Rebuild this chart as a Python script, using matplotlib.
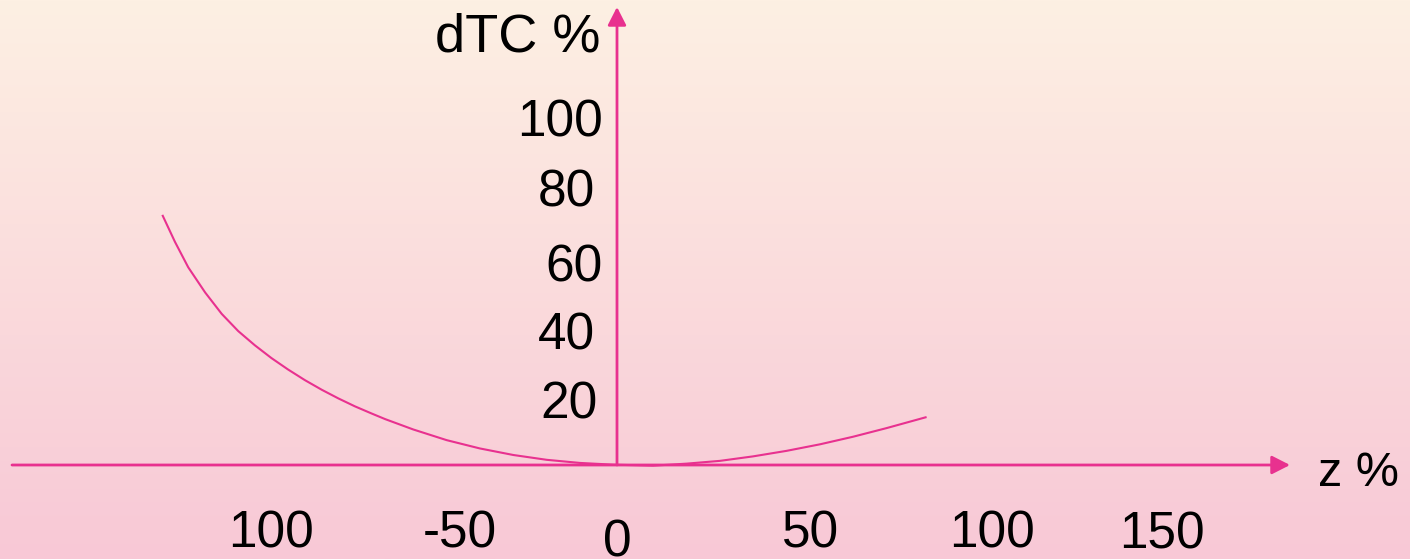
import matplotlib
matplotlib.use("Agg")
import matplotlib.pyplot as plt
import numpy as np

# curve: z %, dTC %
z_vals = [-126.3, -122.8, -119.1, -114.4, -109.8, -105.2, -100.6, -96.0, -91.4,
          -86.7, -82.0, -77.4, -72.8, -68.1, -64.4, -56.6, -47.3, -38.1, -28.8,
          -19.5, -10.3, -1.1, 10.0, 19.4, 28.6, 37.8, 47.1, 56.4, 65.6, 74.9, 86.0]
dtc_vals = [72.5, 64.7, 57.3, 50.0, 43.8, 38.8, 34.7, 31.0, 27.7,
            24.6, 21.8, 19.3, 17.0, 14.9, 13.3, 10.3, 7.2, 4.8, 2.9,
            1.5, 0.6, 0.1, -0.2, 0.4, 1.2, 2.5, 4.1, 6.0, 8.2, 10.7, 13.9]

# hand placed labels of the original slide
y_labels = ["100", "80", "60", "40", "20"]
y_label_pos = [(-3.9, 99.2), (-6.1, 78.9), (-3.9, 57.2), (-6.1, 37.5), (-5.3, 17.5)]
x_labels = ["100", "-50", "0", "50", "100", "150"]
x_label_pos = [(-96.1, -20.0), (-43.6, -20.0), (0.0, -22.6), (53.9, -20.0),
               (104.2, -20.0), (151.4, -20.4)]

PINK = "#E8318F"

fig = plt.figure(figsize=(14.1, 5.59), dpi=100)

# gradient background
bg = fig.add_axes([0, 0, 1, 1])
top = np.array([253, 240, 227]) / 255
bot = np.array([248, 200, 214]) / 255
t = np.linspace(0, 1, 256)[:, None]
grad = top[None, :] * (1 - t) + bot[None, :] * t
bg.imshow(grad[:, None, :], aspect="auto", extent=[0, 1, 0, 1])
bg.axis("off")

ax = fig.add_axes([0, 0, 1, 1], facecolor="none")
ax.set_xlim(-617 / 3.6, (1410 - 617) / 3.6)
ax.set_ylim((465 - 559) / 3.45, 465 / 3.45)
ax.axis("off")

ax.plot(z_vals, dtc_vals, color=PINK, lw=1.5, solid_capstyle="butt",
        solid_joinstyle="round")

arrow = dict(arrowstyle="-|>,head_length=0.55,head_width=0.28", color=PINK,
             lw=2, mutation_scale=20, shrinkA=0, shrinkB=0)
ax.annotate("", xy=(0, 458 / 3.45), xytext=(0, 0), arrowprops=arrow)
ax.annotate("", xy=((1290 - 617) / 3.6, 0), xytext=((12 - 617) / 3.6, 0),
            arrowprops=arrow)

font = "Liberation Sans"
ax.text(-4.7, (465 - 38) / 3.45, "dTC %", fontsize=39, family=font,
        ha="right", va="center")
ax.text((1318 - 617) / 3.6, (465 - 473) / 3.45, "z %", fontsize=35, family=font,
        ha="left", va="center")
for lab, (x, y) in zip(y_labels, y_label_pos):
    ax.text(x, y, lab, fontsize=37, family=font, ha="right", va="center")
for lab, (x, y) in zip(x_labels, x_label_pos):
    ax.text(x, y, lab, fontsize=37, family=font, ha="center", va="center")

fig.savefig("out.png", dpi=100)
